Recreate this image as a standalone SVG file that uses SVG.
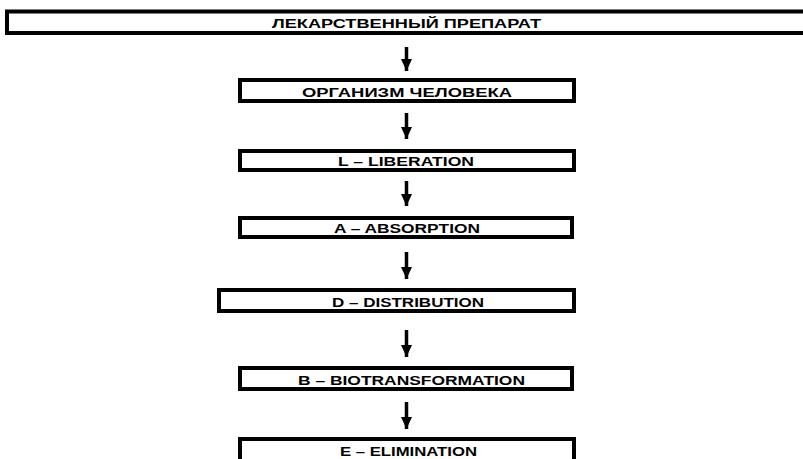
<svg xmlns="http://www.w3.org/2000/svg" width="803" height="459" viewBox="0 0 803 459">
<style>
.box{fill:#fff;stroke:#000;stroke-width:4}
.lbl{font-family:"Liberation Sans",Arial,sans-serif;font-weight:bold;font-size:13.5px;fill:#000;text-anchor:middle}
.arr{stroke:#000;stroke-width:3.5;fill:none;marker-end:url(#ah)}
</style>
<defs>
<marker id="ah" markerUnits="userSpaceOnUse" markerWidth="12" markerHeight="13" refX="12" refY="6" orient="auto">
<path d="M0,0.5 L12,6 L0,11.5 Z" fill="#000"/>
</marker>
</defs>
<rect width="803" height="459" fill="#fff"/>
<g id="connectors">
<line class="arr" x1="406.5" y1="47" x2="406.5" y2="71"/>
<line class="arr" x1="406.5" y1="113" x2="406.5" y2="139"/>
<line class="arr" x1="406.5" y1="181" x2="406.5" y2="206"/>
<line class="arr" x1="406.5" y1="252" x2="406.5" y2="279"/>
<line class="arr" x1="406.5" y1="330" x2="406.5" y2="357"/>
<line class="arr" x1="406.5" y1="402" x2="406.5" y2="429"/>
</g>
<g id="n1"><rect class="box" x="7" y="11.5" width="806" height="21.5"/><text class="lbl" x="406.5" y="27.5" textLength="269" lengthAdjust="spacingAndGlyphs">ЛЕКАРСТВЕННЫЙ ПРЕПАРАТ</text></g>
<g id="n2"><rect class="box" x="240" y="80" width="334" height="21"/><text class="lbl" x="407" y="96.5" textLength="210" lengthAdjust="spacingAndGlyphs">ОРГАНИЗМ ЧЕЛОВЕКА</text></g>
<g id="n3"><rect class="box" x="240" y="151" width="334" height="19"/><text class="lbl" x="406" y="166" textLength="136" lengthAdjust="spacingAndGlyphs">L – LIBERATION</text></g>
<g id="n4"><rect class="box" x="240" y="218" width="332" height="19"/><text class="lbl" x="407" y="233" textLength="146" lengthAdjust="spacingAndGlyphs">A – ABSORPTION</text></g>
<g id="n5"><rect class="box" x="219" y="290" width="355" height="21"/><text class="lbl" x="408" y="306.5" textLength="152" lengthAdjust="spacingAndGlyphs">D – DISTRIBUTION</text></g>
<g id="n6"><rect class="box" x="240" y="368" width="332" height="21"/><text class="lbl" x="411.5" y="385" textLength="227" lengthAdjust="spacingAndGlyphs">B – BIOTRANSFORMATION</text></g>
<g id="n7"><rect class="box" x="240" y="439" width="334" height="40"/><text class="lbl" x="408.5" y="455.5" textLength="137" lengthAdjust="spacingAndGlyphs">E – ELIMINATION</text></g>
</svg>
